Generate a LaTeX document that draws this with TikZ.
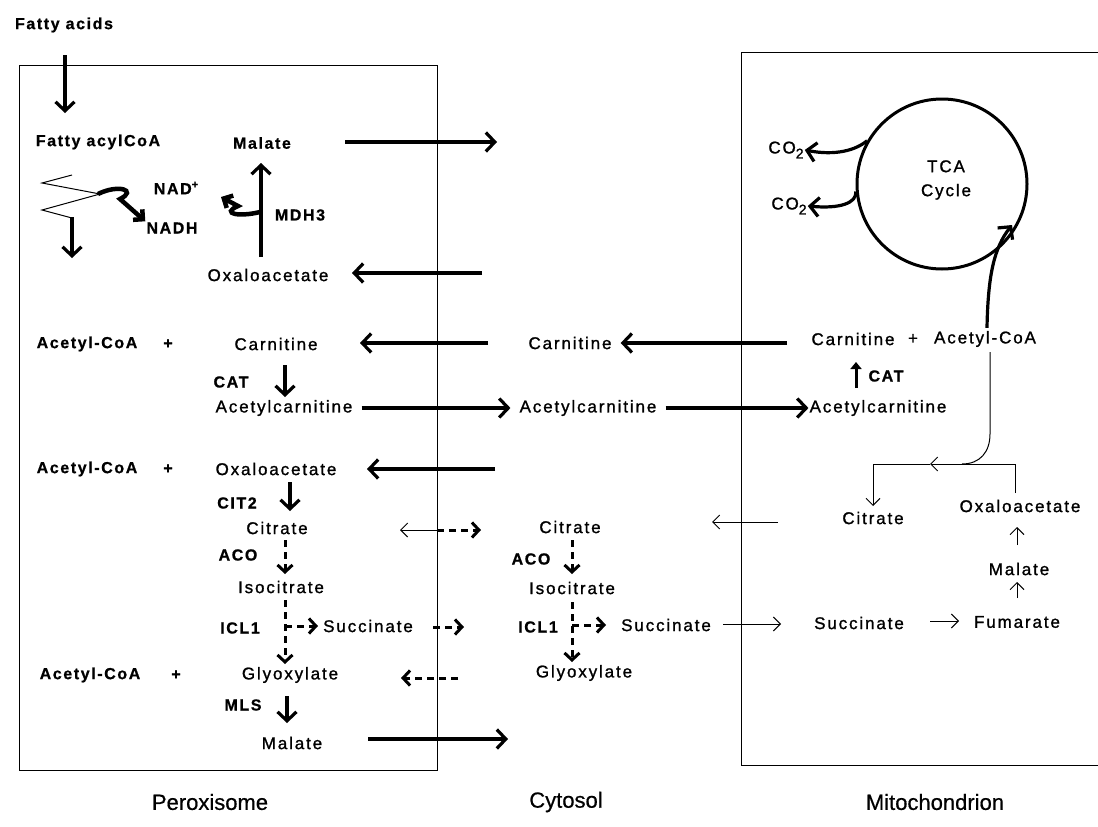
\documentclass[tikz,border=0pt]{standalone}
\usepackage{fontspec}
\usetikzlibrary{arrows.meta}
\newfontfamily\mfont{Liberation Sans}[LetterSpace=11, FakeBold=1.2]
\newfontfamily\lfont{Liberation Sans Bold}[LetterSpace=10, FakeBold=0.8]
\newfontfamily\bigfont{Liberation Sans}[FakeBold=0.6]
\newcommand{\supp}{\raisebox{6pt}{\fontsize{11}{11}\selectfont +}}
\newcommand{\subtwo}{\raisebox{-5pt}{\fontsize{14}{14}\selectfont 2}}
\tikzset{
  met/.style={font=\mfont\fontsize{17}{19}\selectfont, inner sep=1pt},
  lab/.style={font=\lfont\fontsize{16}{18}\selectfont, inner sep=1pt},
  big/.style={font=\bigfont\fontsize{22}{24}\selectfont, inner sep=1pt},
  thk/.style={line width=3.2pt, -{Straight Barb[length=9pt,width=19pt]}},
  thn/.style={line width=1pt, -{Straight Barb[length=7pt,width=14pt]}},
  dsh/.style={line width=3pt, dash pattern=on 7pt off 5pt, -{Straight Barb[length=7pt,width=15pt]}},
  boxline/.style={line width=1pt}
}
\begin{document}
\begin{tikzpicture}[x=1pt,y=-1pt]
\useasboundingbox (0,0) rectangle (1098,827);
% compartments
\draw[boxline] (19,65) rectangle (437,770);
\draw[boxline] (1098,52) -- (741,52) -- (741,765) -- (1098,765);

% ---------- Peroxisome ----------
\node[lab] (fa) at (64,25) {Fatty acids};
\node[lab] (fac) at (98,142) {Fatty acylCoA};
\coordinate (fatop) at (65,55);
\coordinate (fabot) at (65,113);
\draw[thk] (fatop) -- (fabot);
\node[lab] (malP1) at (262,143) {Malate};
\node[lab] (nad) at (176,188) {NAD\supp};
\node[lab] (nadh) at (172,228) {NADH};
\node[lab] (mdh) at (300,215) {MDH3};
\node[met] (oaaP1) at (268,275) {Oxaloacetate};
% beta-oxidation zigzag
\coordinate (z0) at (72,175);
\coordinate (zend) at (72,258);
\draw[line width=1pt] (z0) -- (42,183) -- (100,194) -- (42,210) -- (72,218);
\draw[thk] (72,217) -- (zend);
\draw[line width=4.5pt, -{Straight Barb[length=7pt,width=14pt]}] (98,194) .. controls (118,184) and (138,190) .. (120,199) -- (nadh.north west);
% MDH3
\coordinate (mdhb) at (261,257);
\coordinate (mdht) at (261,163);
\draw[thk] (mdhb) -- (mdht);
\draw[line width=4.5pt, -{Straight Barb[length=7pt,width=14pt]}] (260,212) .. controls (240,217) and (220,214) .. (238,206) -- (221,197);
\coordinate (m1s) at (345,142);
\coordinate (m1e) at (497,142);
\draw[thk] (m1s) -- (m1e);
\coordinate (o1s) at (482,273);
\coordinate (o1e) at (352,273);
\draw[thk] (o1s) -- (o1e);

% row carnitine
\node[lab] (ac1) at (87,344) {Acetyl-CoA};
\node[lab] (pl1) at (168,344) {+};
\node[met] (carP) at (276,344) {Carnitine};
\node[lab] (cat1) at (231,382) {CAT};
\node[met] (accP) at (284,408) {Acetylcarnitine};
\draw[thk] (285,365) -- (285,397);

% row oaa
\node[lab] (ac2) at (87,469) {Acetyl-CoA};
\node[lab] (pl2) at (168,469) {+};
\node[met] (oaaP2) at (276,469) {Oxaloacetate};
\node[lab] (cit2) at (237,503) {CIT2};
\draw[thk] (290,482) -- (290,511);
\node[met] (citP) at (277,528) {Citrate};
\node[lab] (acoP) at (238,555) {ACO};
\draw[dsh] (285,540) -- (285,574);
\node[met] (isoP) at (281,587) {Isocitrate};
\node[lab] (iclP) at (240,628) {ICL1};
\draw[dsh] (285,600) -- (285,664);
\draw[dsh] (285,626) -- (318,626);
\node[met] (sucP) at (368,626) {Succinate};
\node[lab] (ac3) at (90,675) {Acetyl-CoA};
\node[lab] (pl3) at (176,675) {+};
\node[met] (glyP) at (290,675) {Glyoxylate};
\node[lab] (mls) at (243,705) {MLS};
\draw[thk] (287,696) -- (287,723);
\node[met] (malP2) at (292,743) {Malate};

% ---------- Cytosol ----------
\node[met] (carC) at (570,343) {Carnitine};
\node[met] (accC) at (588,408) {Acetylcarnitine};
\node[met] (citC) at (570,527) {Citrate};
\node[lab] (acoC) at (531,559) {ACO};
\draw[dsh] (572,540) -- (572,574);
\node[met] (isoC) at (572,588) {Isocitrate};
\node[lab] (iclC) at (538,627) {ICL1};
\draw[dsh] (572,602) -- (572,662);
\draw[dsh] (572,625) -- (606,625);
\node[met] (sucC) at (666,625) {Succinate};
\node[met] (glyC) at (584,673) {Glyoxylate};

% transport arrows peroxisome <-> cytosol
\coordinate (c1s) at (488,343);
\coordinate (c1e) at (360,343);
\draw[thk] (c1s) -- (c1e);
\draw[thk, shorten <=8pt, shorten >=8pt] (accP.east) -- (accC.west);
\coordinate (o2s) at (495,469);
\coordinate (o2e) at (367,469);
\draw[thk] (o2s) -- (o2e);
\coordinate (cz) at (437,530);
\draw[thn] (cz) -- (400,530);
\draw[dsh] (cz) -- (481,530);
\coordinate (sz) at (433,627);
\draw[dsh] (sz) -- (464,627);
\coordinate (gz) at (458,678);
\draw[dsh] (gz) -- (401,678);
\coordinate (m2s) at (368,739);
\coordinate (m2e) at (508,739);
\draw[thk] (m2s) -- (m2e);

% ---------- Mitochondrion ----------
\node[draw, circle, line width=3pt, minimum size=170pt, inner sep=0] (tca) at (942,184) {};
\node[met, align=center] (tcat) at (946,180) {TCA\\[5pt]Cycle};
\node[met] (co2a) at (786,150) {CO\subtwo};
\node[met] (co2b) at (789,206) {CO\subtwo};
\coordinate (tcain) at (1012,225);
\draw[thk] (tca.150) .. controls (856,150) and (836,156) .. (co2a.east);
\draw[thk] (tca.185) .. controls (857,203) and (840,209) .. (co2b.east);
\node[met] (carM) at (853,339) {Carnitine};
\node[met] (plM) at (913,339) {+};
\node[met] (acM) at (985,339) {Acetyl-CoA};
\draw[thk] (acM.north) ++(2,-2) .. controls (988,275) and (994,248) .. (tcain);
\node[met] (accM) at (878,408) {Acetylcarnitine};
\draw[line width=3pt, -{Triangle[length=7pt,width=11pt]}] (856,388) -- (856,362);
\node[lab] (catM) at (886,376) {CAT};
\coordinate (c2s) at (787,343);
\draw[thk, shorten >=8pt] (c2s) -- (carC.east);
\draw[thk, shorten <=8pt] (accC.east) -- (accM.west);

\node[met] (citM) at (873,518) {Citrate};
\node[met] (oaaM) at (1020,506) {Oxaloacetate};
\node[met] (malM) at (1019,569) {Malate};
\node[met] (fumM) at (1017,622) {Fumarate};
\node[met] (sucM) at (859,623) {Succinate};
\coordinate (j1) at (873,464);
\coordinate (j2) at (1015,464);
\coordinate (jm) at (962,464);
\coordinate (acMdown) at (990,352);
\draw[line width=1pt] (acMdown) -- (990,434) .. controls (990,452) and (980,464) .. (jm);
\draw[line width=1pt] (1015,493) -- (j2) -- (jm);
\draw[thn] (jm) -- (930,464);
\draw[line width=1pt] (930,464) -- (j1);
\draw[thn] (j1) -- (873,506);
\draw[thn] (1017,598) -- (1017,582);
\draw[thn] (1017,545) -- (1017,527);
\draw[thn] (930,621) -- (959,621);
\coordinate (cm) at (778,522);
\draw[thn] (cm) -- (712,522);
\coordinate (sm) at (723,624);
\draw[thn] (sm) -- (781,624);

% compartment labels
\node[big] (lP) at (210,802) {Peroxisome};
\node[big] (lC) at (566,802) {Cytosol};
\node[big] (lM) at (935,802) {Mitochondrion};
\end{tikzpicture}
\end{document}
